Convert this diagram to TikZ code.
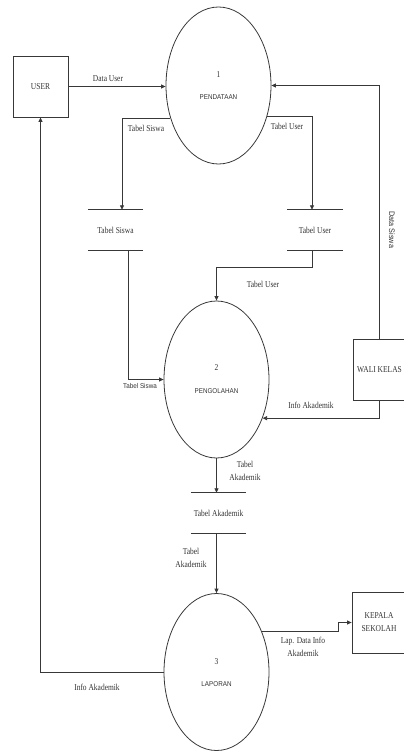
\documentclass[tikz,border=0pt]{standalone}
\usepackage{fontspec}
\usetikzlibrary{arrows.meta,shapes.geometric}
\newfontfamily\seriflbl[FakeStretch=0.83]{Liberation Serif}
\newfontfamily\sanslbl[FakeStretch=0.9]{Liberation Sans}

\begin{document}
\begin{tikzpicture}[x=1pt,y=-1pt,
  line/.style={draw=black!78, line width=0.8pt},
  flow/.style={line, -{Triangle[length=4.5pt,width=4pt]}},
  proc/.style={ellipse, line, minimum width=105pt, minimum height=157pt, inner sep=0pt},
  entity/.style={rectangle, line, inner sep=0pt, minimum height=61pt,
    font=\seriflbl\fontsize{9}{13}\selectfont, text=black!80, align=center},
  store/.style={inner sep=0pt, minimum width=55pt, minimum height=40pt,
    font=\seriflbl\fontsize{9}{13}\selectfont, text=black!80},
  txt/.style={font=\seriflbl\fontsize{9}{13}\selectfont, text=black!80, inner sep=0pt, align=center},
  stxt/.style={font=\sanslbl\fontsize{7}{9}\selectfont, text=black!80, inner sep=0pt},
]
\useasboundingbox (0,0) rectangle (404,752);
\clip (0,0) rectangle (404,752);

% external entities
\node[entity, minimum width=55pt] (user) at (40.5,86.5) {USER};
\node[entity, minimum width=53pt] (wk) at (379.5,369.5) {WALI KELAS};
\node[entity, minimum width=54pt] (kp) at (379,622.5) {KEPALA\\SEKOLAH};

% processes
\node[proc] (p1) at (218.5,85.5) {};
\node[proc] (p2) at (216.5,379.5) {};
\node[proc] (p3) at (216.5,672) {};
\node[txt]  (n1) at ([yshift=10.5pt]p1.center) {1};
\node[stxt] (t1) at ([yshift=-11.5pt]p1.center) {PENDATAAN};
\node[txt]  (n2) at ([yshift=11.5pt]p2.center) {2};
\node[stxt] (t2) at ([yshift=-11.5pt]p2.center) {PENGOLAHAN};
\node[txt]  (n3) at ([yshift=10pt]p3.center) {3};
\node[stxt] (t3) at ([yshift=-12pt]p3.center) {LAPORAN};

% data stores
\node[store] (ts) at (115.5,230) {Tabel Siswa};
\node[store] (tu) at (315,230) {Tabel User};
\node[store] (ta) at (218.5,513) {Tabel Akademik};
\foreach \s in {ts,tu,ta}{
  \draw[line] (\s.north west) -- (\s.north east);
  \draw[line] (\s.south west) -- (\s.south east);
}

% data flows
\draw[flow] (user.east) -- (user.east -| p1.west);
\draw[flow] (p1.214) -| ([xshift=6.5pt]ts.north);
\draw[flow] (p1.-32) -| ([xshift=-3pt]tu.north);
\draw[flow] ([xshift=12.5pt]ts.south) |- (p2.west);
\draw[flow] ([xshift=-3pt]tu.south) -- ++(0,17) -| (p2.north);
\draw[flow] (wk.north) |- (p1.east);
\draw[flow] (wk.south) |- (p2.-40);
\draw[flow] (p2.south) -- (p2.south |- ta.north);
\draw[flow] (ta.south -| p3.north) -- (p3.north);
\draw[flow] (p3.42) -| ([xshift=-13pt]kp.west) -- (kp.west);
\draw[flow] (p3.west) -| (user.south);

% flow labels
\node[txt]  (l1) at (108,79) {Data User};
\node[txt]  (l2) at (146,128) {Tabel Siswa};
\node[txt]  (l3) at (287,126) {Tabel User};
\node[txt]  (l4) at (263,284) {Tabel User};
\node[stxt] (l5) at (140,386) {Tabel Siswa};
\node[txt]  (l6) at (311,405) {Info Akademik};
\node[txt]  (l7) at (245,470.5) {Tabel\\Akademik};
\node[txt]  (l8) at (191,558) {Tabel\\Akademik};
\node[txt]  (l9) at (303,646.5) {Lap. Data Info\\Akademik};
\node[txt]  (l10) at (97,687) {Info Akademik};
\node[stxt, font=\sanslbl\fontsize{8}{10}\selectfont, rotate=-90] (l11) at (392,230) {Data Siswa};
\end{tikzpicture}
\end{document}
